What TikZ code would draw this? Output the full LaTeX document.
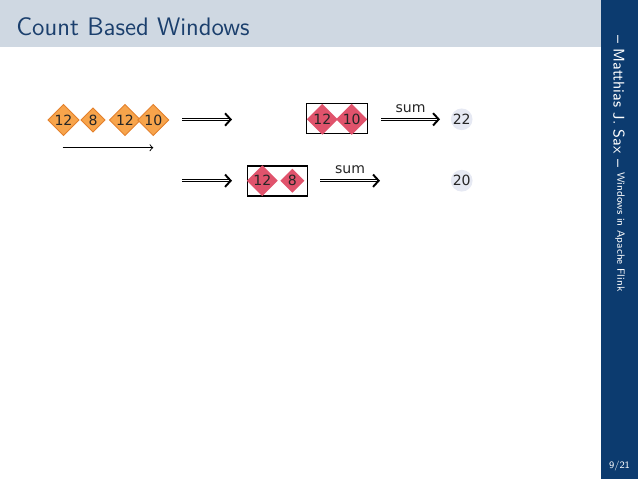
\documentclass[tikz,border=0pt]{standalone}
\usepackage{fontspec}
\usetikzlibrary{shapes.geometric,arrows.meta,arrows}
\newfontfamily\dv{DejaVu Sans}
\definecolor{headbg}{HTML}{CFD8E2}
\definecolor{sidebg}{HTML}{0C3B6F}
\definecolor{titlecol}{HTML}{1B3F6D}
\definecolor{orfill}{HTML}{F7A44B}
\definecolor{ordraw}{HTML}{E3802C}
\definecolor{rdfill}{HTML}{E0536C}
\definecolor{numfill}{HTML}{E6E9F3}
\begin{document}
\begin{tikzpicture}[x=0.5687pt,y=-0.5687pt,
  orange/.style={diamond,aspect=1,fill=orfill,draw=ordraw,line width=0.5pt,inner sep=0.4pt,minimum size=13.8pt,font=\dv\fontsize{8}{9}\selectfont,text=black!85},
  red/.style={diamond,aspect=1,fill=rdfill,inner sep=0.4pt,minimum size=13.8pt,font=\dv\fontsize{8}{9}\selectfont,text=black!85},
  winbox/.style={rectangle,draw=black,line width=0.7pt,inner sep=0pt},
  dbl/.style={double,double distance=0.8pt,line width=0.55pt,-{Straight Barb[length=3.2pt,width=7pt,line width=1.1pt]}},
  num/.style={circle,fill=numfill,inner sep=0.2pt,font=\dv\fontsize{8}{9}\selectfont,text=black!85},
  lbl/.style={font=\dv\fontsize{8}{9}\selectfont,text=black!85}]
\useasboundingbox (0,0) rectangle (638,479);
% background elements
\fill[headbg] (0,0) rectangle (601,47);
\fill[sidebg] (601,0) rectangle (638,479);
\node[anchor=west,inner sep=0pt,text=titlecol,font=\sffamily\fontsize{14.4}{16}\selectfont] (title) at (16,27) {Count Based Windows};
\node[anchor=west,inner sep=0pt,rotate=-90,text=white,font=\sffamily\fontsize{8.8}{10}\selectfont] (author) at (619,35) {-- Matthias J. Sax --};
\node[anchor=west,inner sep=0pt,rotate=-90,text=white,font=\sffamily\fontsize{6}{7}\selectfont] (talk) at (620,172) {Windows in Apache Flink};
\node[text=white,font=\sffamily\fontsize{5.6}{6}\selectfont] (page) at (619.5,466) {9/21};
% input stream
\node[orange] (o1) at (63.5,120) {12};
\node[orange] (o2) at (93,120) {8};
\node[orange] (o3) at (125,120) {12};
\node[orange] (o4) at (153.3,120) {10};
\coordinate (t0) at (62.7,147.7);
\coordinate (t1) at (153.3,147.7);
\draw[line width=0.55pt,-to] (t0) -- (t1);
% row 1
\coordinate (a1s) at (182,119.5);
\coordinate (a1e) at (232,119.5);
\draw[dbl] (a1s) -- (a1e);
\node[winbox,minimum width=34.7pt,minimum height=17.3pt] (w1) at (337.2,118.5) {};
\node[red] (r1) at (322.3,119.3) {12};
\node[red] (r2) at (351.7,119.3) {10};
\coordinate (s1s) at (381,119.3);
\coordinate (s1e) at (440,119.3);
\draw[dbl] (s1s) -- node[lbl,above=0.3pt] (sum1) {sum} (s1e);
\node[num] (n1) at (461.7,119.3) {22};
% row 2
\coordinate (a2s) at (182,180.7);
\coordinate (a2e) at (232,180.7);
\draw[dbl] (a2s) -- (a2e);
\node[winbox,minimum width=34.1pt,minimum height=17.1pt] (w2) at (277.3,181) {};
\node[red] (r3) at (262.3,180.7) {12};
\node[red] (r4) at (292.3,180.7) {8};
\coordinate (s2s) at (320,180.7);
\coordinate (s2e) at (380,180.7);
\draw[dbl] (s2s) -- node[lbl,above=0.3pt] (sum2) {sum} (s2e);
\node[num] (n2) at (461.7,180.7) {20};
\end{tikzpicture}
\end{document}
